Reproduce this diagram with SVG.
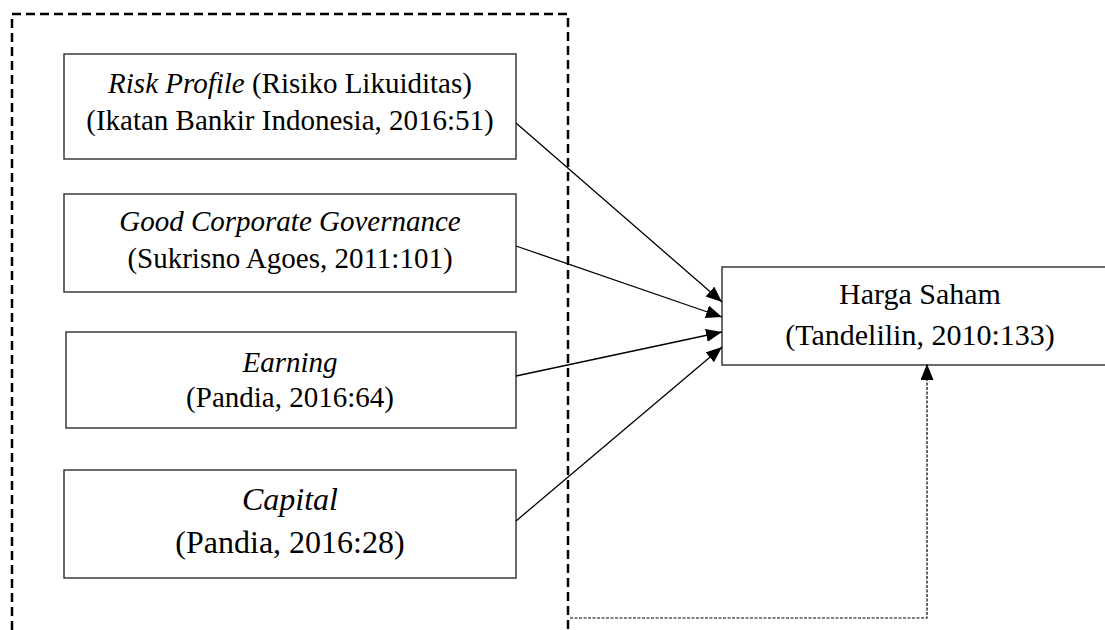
<svg xmlns="http://www.w3.org/2000/svg" width="1105" height="630" viewBox="0 0 1105 630">
<style>
.box{fill:#fff;stroke:#3a3a3a;stroke-width:1.5}
.t{font-family:"Liberation Serif","Times New Roman",serif;font-size:29px;fill:#000;text-anchor:middle}
.big{font-size:32px}
.h{font-size:30px}
.i{font-style:italic}
.frame{fill:none;stroke:#000;stroke-width:2.5;stroke-dasharray:9 5}
.arr{fill:none;stroke:#000;stroke-width:1.3;marker-end:url(#ah)}
.fb{fill:none;stroke:#000;stroke-width:1.2;stroke-dasharray:3 1.5;marker-end:url(#ah)}
</style>
<defs>
<marker id="ah" markerUnits="userSpaceOnUse" markerWidth="17" markerHeight="14" refX="16" refY="6.5" orient="auto">
<path d="M0,0 L16,6.5 L0,13 z" fill="#000"/>
</marker>
</defs>
<rect width="1105" height="630" fill="#fff"/>
<g id="frame">
<path class="frame" d="M12,630 V14 H568 V630"/>
</g>
<g id="n1">
<rect class="box" x="64" y="54" width="452" height="105"/>
<text class="t" x="290" y="93"><tspan class="i">Risk Profile</tspan> (Risiko Likuiditas)</text>
<text class="t" x="290" y="130">(Ikatan Bankir Indonesia, 2016:51)</text>
</g>
<g id="n2">
<rect class="box" x="64" y="194" width="452" height="98"/>
<text class="t i" x="290" y="231">Good Corporate Governance</text>
<text class="t" x="290" y="268">(Sukrisno Agoes, 2011:101)</text>
</g>
<g id="n3">
<rect class="box" x="66" y="332" width="450" height="96"/>
<text class="t i" x="290" y="372">Earning</text>
<text class="t" x="290" y="407">(Pandia, 2016:64)</text>
</g>
<g id="n4">
<rect class="box" x="64" y="470" width="452" height="108"/>
<text class="t big i" x="290" y="510">Capital</text>
<text class="t big" x="290" y="553">(Pandia, 2016:28)</text>
</g>
<g id="n5">
<rect class="box" x="722" y="267" width="400" height="98"/>
<text class="t h" x="920" y="304">Harga Saham</text>
<text class="t h" x="920" y="345">(Tandelilin, 2010:133)</text>
</g>
<g id="connectors">
<line class="arr" x1="516" y1="123" x2="722" y2="302"/>
<line class="arr" x1="516" y1="246" x2="722" y2="317"/>
<line class="arr" x1="516" y1="376" x2="722" y2="332"/>
<line class="arr" x1="516" y1="521" x2="722" y2="347"/>
<polyline class="fb" points="570,618 927,618 927,364"/>
</g>
</svg>
